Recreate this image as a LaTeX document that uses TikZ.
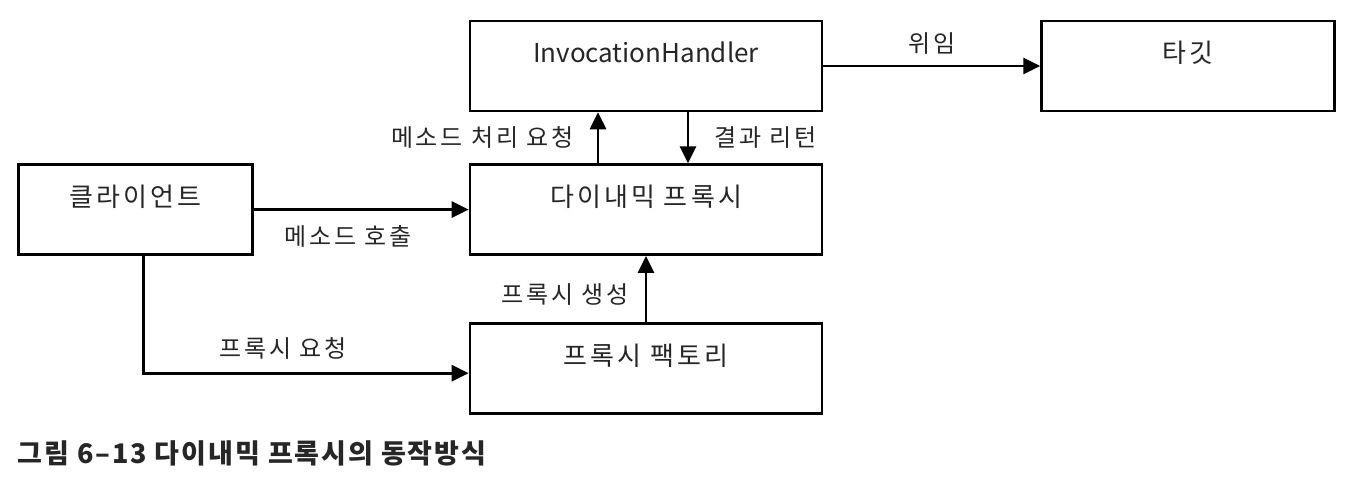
\documentclass[tikz,border=0pt]{standalone}
\usepackage{fontspec}
\setmainfont{Noto Sans CJK KR}
\newfontfamily\krfont{Noto Sans CJK KR}[LetterSpace=12]
\newfontfamily\capfont{Noto Sans CJK KR}[LetterSpace=7]
\usetikzlibrary{arrows.meta,positioning}

\begin{document}
\begin{tikzpicture}[
    box/.style={rectangle, draw=black, line width=1.3pt, text=black!85,
        font=\krfont\fontsize{13}{15}\selectfont,
        inner xsep=0pt, inner ysep=0pt, text height=21pt, text depth=24pt},
    lbl/.style={font=\krfont\fontsize{12}{14}\selectfont, text=black!85, inner sep=0pt},
    flow/.style={->, line width=1.4pt},
    >={Triangle[length=8.5pt,width=8pt]}
]
\useasboundingbox (0,0) rectangle (678pt,-246pt);

\node[box, minimum width=176pt, font=\fontsize{13}{15}\selectfont] (handler) at (323pt,-33pt) {InvocationHandler};
\node[box, minimum width=146.5pt, right=108.5pt of handler] (target) {타깃};
\node[box, minimum width=176pt, below=25.5pt of handler] (proxy) {다이내믹 프록시};
\node[box, minimum width=176pt, below=33pt of proxy] (factory) {프록시 팩토리};
\node[box, minimum width=117pt, left=107.5pt of proxy] (client) {클라이언트};

\draw[flow] (handler) -- node[lbl, above=5pt] {위임} (target);
\draw[flow] ([xshift=-24pt]proxy.north) -- node[lbl, left=11.5pt] {메소드 처리 요청} ([xshift=-24pt]handler.south);
\draw[flow] ([xshift=21pt]handler.south) -- node[lbl, right=12.5pt] {결과 리턴} ([xshift=21pt]proxy.north);
\draw[flow] (client.east) -- node[lbl, below=7.5pt, pos=0.44] {메소드 호출} (client.east -| proxy.west);
\draw[flow] ([xshift=4pt]client.south) |- node[lbl, above=6.3pt, pos=0.715] {프록시 요청} ([yshift=-2.5pt]factory.west);
\draw[flow] (factory) -- node[lbl, left=8pt, pos=0.42] {프록시 생성} (proxy);

\node[anchor=west, inner sep=0pt, text=black!85,
      font=\capfont\fontsize{13.5}{16}\selectfont\bfseries] (caption) at (8.5pt,-226.5pt)
      {그림 6–13 다이내믹 프록시의 동작방식};
\end{tikzpicture}
\end{document}
